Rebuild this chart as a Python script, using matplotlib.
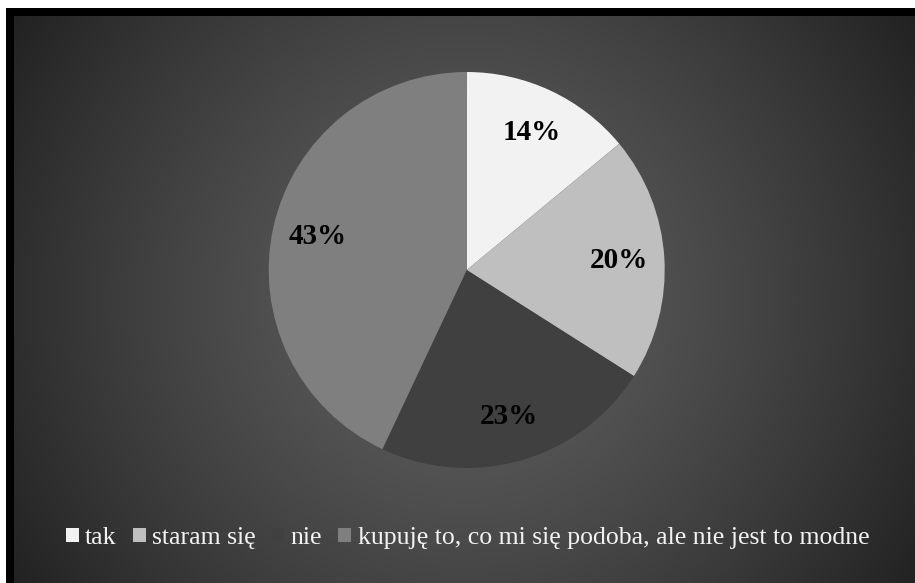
import numpy as np
import matplotlib
matplotlib.use("Agg")
import matplotlib.pyplot as plt
from matplotlib.patches import Rectangle

# odpowiedzi ankiety
labels = ["tak", "staram się", "nie", "kupuję to, co mi się podoba, ale nie jest to modne"]
shares = [14, 20, 23, 43]
colors = ["#f2f2f2", "#bfbfbf", "#404040", "#7f7f7f"]

W, H = 915, 583
fig = plt.figure(figsize=(W / 100, H / 100), dpi=100)

# tło: promieniowy gradient (jaśniej w środku, ciemno na brzegach)
bg = fig.add_axes([0, 0, 1, 1])
yy, xx = np.mgrid[0:H, 0:W]
r = np.hypot(xx - 465, yy - 300)
v = 95 - 26 * (r / 283) ** 1.35
v = np.clip(v, 28, 255) / 255
bg.imshow(np.dstack([v, v, v]), extent=[0, W, H, 0], interpolation="bilinear")
bg.set_xlim(0, W)
bg.set_ylim(H, 0)
bg.axis("off")

# biały margines i czarna ramka (góra i lewa strona)
bg.add_patch(Rectangle((0, 0), W, 8, color="white", lw=0))
bg.add_patch(Rectangle((0, 0), 6, H, color="white", lw=0))
bg.add_patch(Rectangle((6, 8), W, 8, color="black", lw=0))
bg.add_patch(Rectangle((6, 8), 8, H, color="black", lw=0))

# wykres kołowy
cx, cy, R = 466.7, 270, 198
ax = fig.add_axes([(cx - R) / W, (H - cy - R) / H, 2 * R / W, 2 * R / H])
wedges, _, autotexts = ax.pie(
    shares, colors=colors, startangle=90, counterclock=False,
    autopct="%d%%", pctdistance=0.77, radius=1,
    wedgeprops=dict(linewidth=0),
    textprops=dict(family="Liberation Serif", fontsize=21, fontweight="bold", color="black"),
)
ax.set_aspect("equal")
ax.set_xlim(-1, 1)
ax.set_ylim(-1, 1)
ax.axis("off")

leg = fig.legend(
    wedges, labels, loc="center", bbox_to_anchor=(0.511, 0.077), ncol=4,
    frameon=False, handlelength=0.5, handleheight=0.5, handletextpad=0.25,
    columnspacing=0.62, borderaxespad=0,
    prop=dict(family="Liberation Serif", size=18.5),
)
for t in leg.get_texts():
    t.set_color("#f2f2f2")

fig.savefig("out.png", dpi=100)
